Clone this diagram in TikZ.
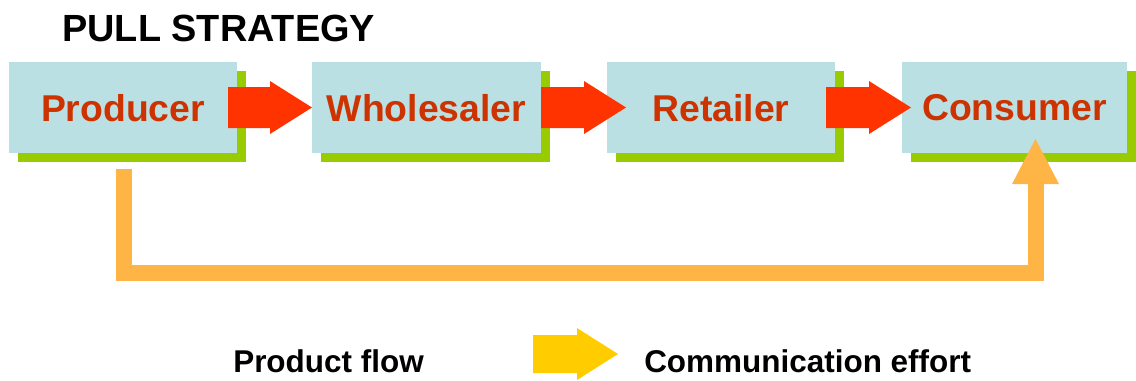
\documentclass[tikz,border=0pt]{standalone}
\usepackage{fontspec}
\setmainfont{Liberation Sans}
\usetikzlibrary{shadows}
\definecolor{boxblue}{HTML}{BBE0E3}
\definecolor{shadgreen}{HTML}{99CC00}
\definecolor{labred}{HTML}{CC3300}
\definecolor{arrred}{HTML}{FF3300}
\definecolor{commorange}{HTML}{FFB446}
\definecolor{legyellow}{HTML}{FFCC00}
\newcommand\blockarr[6]{% start coord, shaft len, head len, half shaft, half head, colour
  \fill[#6] (#1) ++(0,-#4) -- ++(#2,0) -- ++(0,#4-#5) -- ++(#3,#5) -- ++(-#3,#5) -- ++(0,#4-#5) -- ++(-#2,0) -- cycle;}
\begin{document}
\begin{tikzpicture}[x=0.75pt,y=-0.75pt,
  chainbox/.style={draw=none, fill=boxblue, minimum height=68.25pt, inner sep=0pt,
    text=labred, font=\bfseries\fontsize{28}{32}\selectfont, text depth=0pt,
    general shadow={fill=shadgreen, shadow xshift=6.75pt, shadow yshift=-6.75pt}},
  legtext/.style={anchor=base west, inner sep=0pt, font=\bfseries\fontsize{23.6}{27}\selectfont},
  commline/.style={draw=commorange, line width=12pt, line join=miter, line cap=butt}]
\useasboundingbox (0,0) rectangle (1136,380);
\node[anchor=base west, inner sep=0pt, font=\bfseries\fontsize{28.4}{32}\selectfont] (title) at (62,41) {PULL STRATEGY};
\node[chainbox, minimum width=171pt] (prod) at (123,107.5) {Producer};
\node[chainbox, minimum width=171.75pt] (whole) at (426.5,107.5) {Wholesaler};
\node[chainbox, minimum width=171pt] (ret) at (721,107.5) {Retailer};
\node[chainbox, minimum width=168.75pt] (cons) at (1014.5,107.5) {Consumer};
% product flow arrows
\coordinate (a1) at (228,107.5);
\coordinate (a2) at (541,107.5);
\coordinate (a3) at (826,107.5);
\blockarr{a1}{42}{42}{20.5}{26.5}{arrred}
\blockarr{a2}{43}{42}{20.5}{26.5}{arrred}
\blockarr{a3}{43}{42}{20.5}{26.5}{arrred}
% communication effort
\coordinate (cs) at (124,169);
\coordinate (cb) at (1035.5,273);
\coordinate (ch) at (1035.5,184);
\coordinate (ct) at (1035.5,139);
\draw[commline] (cs) |- (cb) -- (ch);
\fill[commorange] (1012,184) -- (ct) -- (1059,184) -- cycle;
% legend
\node[legtext] (lprod) at (233,372) {Product flow};
\coordinate (ly) at (533,354);
\blockarr{ly}{44}{41}{19}{26}{legyellow}
\node[legtext] (lcomm) at (644,372) {Communication effort};
\end{tikzpicture}
\end{document}
